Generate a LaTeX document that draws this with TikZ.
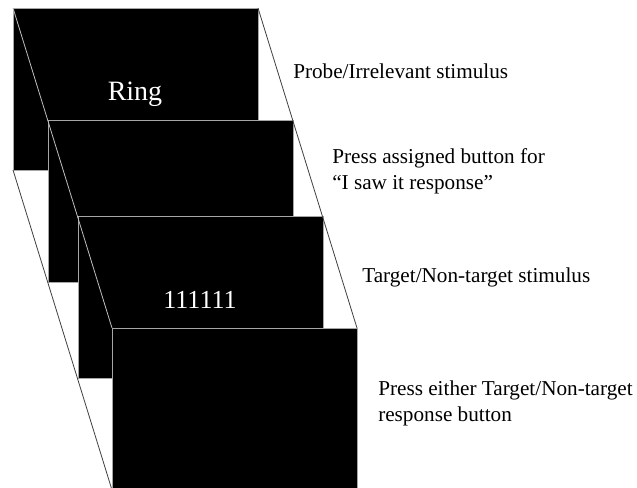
\documentclass[tikz,border=0pt]{standalone}
\usepackage{fontspec}
\setmainfont{Liberation Serif}
\begin{document}
\begin{tikzpicture}[x=0.75pt,y=-0.75pt,
  screen/.style={fill=black,draw=white!65!black,line width=0.6pt,
    inner sep=0pt,outer sep=0pt,minimum width=183.75pt,minimum height=121.5pt,
    anchor=north west},
  shown/.style={text=white,inner sep=0pt,anchor=base},
  desc/.style={anchor=base west,inner sep=0pt,align=left,
    font=\fontsize{15.9}{20}\selectfont},
  rayline/.style={draw=black!75,line width=0.6pt},
  raylight/.style={draw=white!75!black,line width=0.6pt}]
  \clip (0,0) rectangle (637,488);
  \fill[white] (0,0) rectangle (637,488);

  % the four screens, back to front
  \node[screen] (s1) at (13,8) {};
  \node[screen] (s2) at (48,120) {};
  \node[screen] (s3) at (78,216) {};
  \node[screen] (s4) at (112,328) {};

  % edges of the stack
  \draw[raylight] (s1.north west) -- (s4.north west);
  \draw[rayline] (s1.north east) -- (s4.north east);
  \draw[rayline] (s1.south west) -- (s4.south west);

  % screen contents
  \node[shown,font=\fontsize{21}{25}\selectfont] (w1) at (135,101) {Ring};
  \node[shown,font=\fontsize{19.5}{23}\selectfont] (w3) at (200,309) {111111};

  % descriptions (multi-line ones are placed by their last baseline)
  \node[desc] (d1) at (293,79) {Probe/Irrelevant stimulus};
  \node[desc] (d2) at (332,190) {Press assigned button for\\“I saw it response”};
  \node[desc] (d3) at (362,283) {Target/Non-target stimulus};
  \node[desc] (d4) at (378,422) {Press either Target/Non-target\\response button};
\end{tikzpicture}
\end{document}
